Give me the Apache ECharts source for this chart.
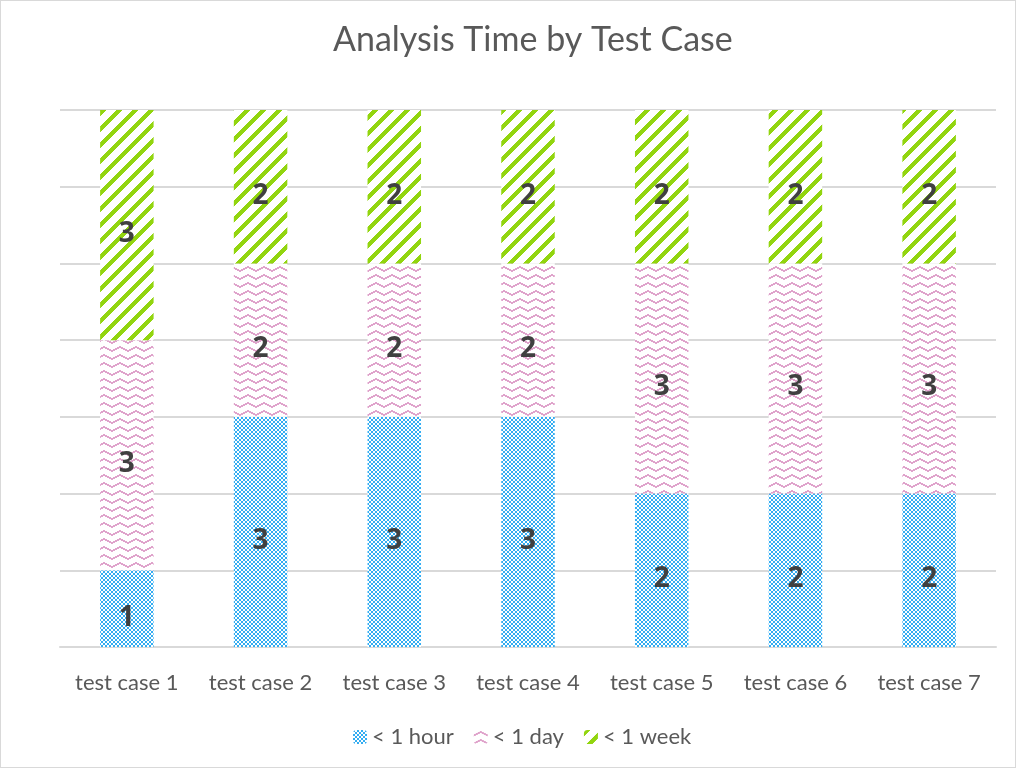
<!DOCTYPE html>
<html>
<head>
<meta charset="utf-8">
<script src="https://cdn.jsdelivr.net/npm/echarts@6/dist/echarts.min.js"></script>
<style>
  html, body { margin: 0; padding: 0; background: #fff; }
  #chart { width: 1016px; height: 768px; box-sizing: border-box; border: 1px solid #d9d9d9; }
</style>
</head>
<body>
<div id="chart"></div>
<script>
const categories = ['test case 1', 'test case 2', 'test case 3', 'test case 4', 'test case 5', 'test case 6', 'test case 7'];
const hourValues = [1, 3, 3, 3, 2, 2, 2];
const dayValues = [3, 2, 2, 2, 3, 3, 3];
const weekValues = [3, 2, 2, 2, 2, 2, 2];

// small canvas tiles used as repeating fills
function dotPattern() {
    const c = document.createElement('canvas');
    c.width = 4; c.height = 4;
    const ctx = c.getContext('2d');
    ctx.fillStyle = '#ffffff';
    ctx.fillRect(0, 0, 4, 4);
    ctx.fillStyle = '#33adf2';
    ctx.fillRect(0, 0, 2, 2);
    ctx.fillRect(2, 2, 2, 2);
    return c;
}

function wavePattern() {
    const c = document.createElement('canvas');
    c.width = 16; c.height = 8;
    const ctx = c.getContext('2d');
    ctx.fillStyle = '#ffffff';
    ctx.fillRect(0, 0, 16, 8);
    ctx.fillStyle = '#dfa3cb';
    const ys = [3, 2, 1, 0, 1, 2, 3, 4];
    for (let i = 0; i < 8; i++) {
        ctx.fillRect(i * 2, ys[i] + 1, 2, 2);
    }
    return c;
}

function stripePattern() {
    const c = document.createElement('canvas');
    c.width = 16; c.height = 16;
    const ctx = c.getContext('2d');
    ctx.fillStyle = '#ffffff';
    ctx.fillRect(0, 0, 16, 16);
    ctx.fillStyle = '#92d50f';
    for (let y = 0; y < 16; y++) {
        for (let k = 0; k < 6; k++) {
            const x = (16 - y + k) % 16;
            ctx.fillRect(x, y, 1, 1);
        }
    }
    return c;
}

const fonts = 'Lato, "Open Sans", sans-serif';
function labelStyle() {
    return {
        show: true,
        position: 'inside',
        offset: [0, 9],
        fontSize: 28,
        fontWeight: 'bold',
        color: '#404040',
        textBorderWidth: 0,
        textBorderColor: 'transparent',
        fontFamily: '"Open Sans", sans-serif'
    };
}

const chart = echarts.init(document.getElementById('chart'));
chart.setOption({
    animation: false,
    title: {
        text: 'Analysis Time by Test Case',
        left: 327,
        top: 17,
        textStyle: { fontSize: 34, fontWeight: 'normal', color: '#595959', fontFamily: fonts }
    },
    legend: {
        bottom: 14,
        left: 347,
        itemWidth: 14,
        itemHeight: 14,
        itemGap: 20,
        textStyle: { fontSize: 22, color: '#595959', fontFamily: fonts }
    },
    grid: { left: 59, right: 19, top: 109, bottom: 120 },
    xAxis: {
        type: 'category',
        data: categories,
        axisLine: { lineStyle: { color: '#d9d9d9', width: 2 } },
        axisTick: { show: false },
        axisLabel: { interval: 0, fontSize: 22, color: '#595959', margin: 25, fontFamily: fonts }
    },
    yAxis: {
        type: 'value',
        min: 0, max: 7, interval: 1,
        axisLabel: { show: false },
        axisLine: { show: false },
        axisTick: { show: false },
        splitLine: { lineStyle: { color: '#d9d9d9', width: 2 } }
    },
    series: [
        {
            name: '< 1 hour', type: 'bar', stack: 'total', data: hourValues,
            barWidth: '40%',
            itemStyle: { color: { image: dotPattern(), repeat: 'repeat' } },
            label: labelStyle()
        },
        {
            name: '< 1 day', type: 'bar', stack: 'total', data: dayValues,
            itemStyle: { color: { image: wavePattern(), repeat: 'repeat' } },
            label: labelStyle()
        },
        {
            name: '< 1 week', type: 'bar', stack: 'total', data: weekValues,
            itemStyle: { color: { image: stripePattern(), repeat: 'repeat' } },
            label: labelStyle()
        }
    ]
});
</script>
</body>
</html>
